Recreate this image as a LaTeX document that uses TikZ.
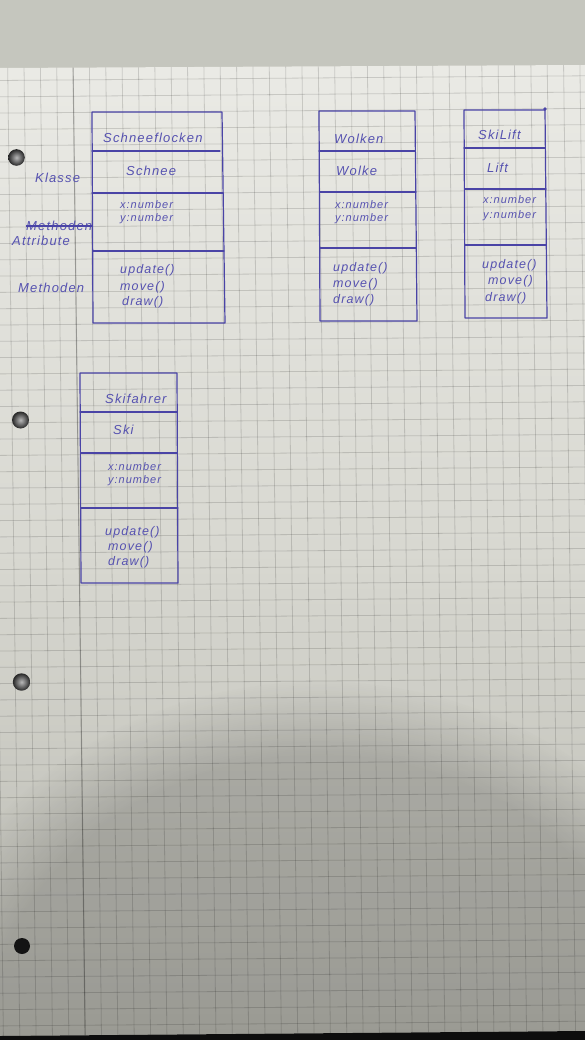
\documentclass[tikz,border=0pt]{standalone}
\usepackage{fontspec}
\newfontfamily\handfont[LetterSpace=9]{Liberation Sans}
\usetikzlibrary{fadings}
\definecolor{wall}{RGB}{197,198,190}
\definecolor{papertop}{RGB}{234,234,229}
\definecolor{papermid}{RGB}{216,216,209}
\definecolor{paperbot}{RGB}{184,184,176}
\definecolor{ink}{RGB}{74,68,166}
\definecolor{inktext}{RGB}{86,82,176}

\begin{document}
\begin{tikzpicture}[x=1pt,y=-1pt,
  gridline/.style={black, opacity=0.14, line width=0.8pt},
  marginline/.style={black, opacity=0.22, line width=1.1pt},
  inkline/.style={draw=ink, line width=1.2pt, line cap=round, line join=round},
  hand/.style={text=inktext, inner sep=0pt, anchor=west},
  title/.style={hand, font=\handfont\itshape\fontsize{13}{15}\selectfont},
  attr/.style={hand, font=\handfont\itshape\fontsize{11}{13}\selectfont},
  meth/.style={hand, font=\handfont\itshape\fontsize{12.5}{14}\selectfont},
  hole/.style={inner color=gray!55, outer color=black!85},
]
\useasboundingbox (0,0) rectangle (585,1040);

% wall behind the sheet
\fill[wall] (0,0) rectangle (585,1040);

% the sheet of squared paper
\shade[top color=papertop, bottom color=paperbot, middle color=papermid]
  (0,68) -- (585,65) -- (585,1031) -- (0,1036) -- cycle;
\begin{scope}
  \clip (0,68) -- (585,65) -- (585,1031) -- (0,1036) -- cycle;
  \fill[black, opacity=0.16, path fading=circle with fuzzy edge 20 percent]
    (320,1060) ellipse [x radius=420, y radius=380];
\end{scope}

% squared grid
\begin{scope}
  \clip (0,68) -- (585,65) -- (585,1031) -- (0,1036) -- cycle;
  \foreach \k in {-5,...,32}
    \draw[gridline] ({73+16.35*\k},60) -- ({73+16.35*\k+12.2},1040);
  \foreach \j in {0,...,60}
    \draw[gridline] (0,{80.5+16.3*\j}) -- (585,{80.5+16.3*\j-4.7});
  % margin rule
  \draw[marginline] (73,60) -- (85.2,1040);
\end{scope}

% punched holes
\shade[hole] (16.5,157.5) circle [radius=8.3];
\shade[hole] (20.5,420) circle [radius=8.5];
\shade[hole] (21.5,682) circle [radius=8.7];
\fill[black!92] (22,946) circle [radius=8];

% table edge below the sheet
\fill[black!95] (0,1036) -- (585,1031) -- (585,1040) -- (0,1040) -- cycle;

% ---- class Schneeflocken ----
\draw[inkline] (92,112) -- (222,112) -- (225,323) -- (93,323) -- cycle;
\draw[inkline] (92,151) -- (220,151);
\draw[inkline] (92,193) -- (223,193);
\draw[inkline] (93,251) -- (224,251);
\node[title] (sfName) at (103,138) {Schneeflocken};
\node[title] (sfObj) at (126,171) {Schnee};
\node[attr] (sfX) at (120,205) {x:number};
\node[attr] (sfY) at (120,219) {y:number};
\node[meth] (sfUpd) at (120,270) {update()};
\node[meth] (sfMove) at (120,287) {move()};
\node[meth] (sfDraw) at (122,302) {draw()};

% margin notes
\node[title] (lblClass) at (35,178) {Klasse};
\node[title] (lblOld) at (26,226) {Methoden};
\draw[ink, line width=1.1pt] (lblOld.west) -- (lblOld.east);
\node[title] (lblAttr) at (12,241) {Attribute};
\node[title] (lblMeth) at (18,288) {Methoden};

% ---- class Wolken ----
\draw[inkline] (319,111) -- (415,111) -- (417,321) -- (320,321) -- cycle;
\draw[inkline] (319,151) -- (415,151);
\draw[inkline] (320,192) -- (416,192);
\draw[inkline] (320,248) -- (416,248);
\node[title] (wkName) at (334,139) {Wolken};
\node[title] (wkObj) at (336,171) {Wolke};
\node[attr] (wkX) at (335,205) {x:number};
\node[attr] (wkY) at (335,219) {y:number};
\node[meth] (wkUpd) at (333,268) {update()};
\node[meth] (wkMove) at (333,284) {move()};
\node[meth] (wkDraw) at (333,300) {draw()};

% ---- class SkiLift ----
\draw[inkline] (464,110) -- (545,110) -- (547,318) -- (465,318) -- cycle;
\fill[ink] (545,109) circle [radius=1.8];
\draw[inkline] (464,148) -- (545,148);
\draw[inkline] (465,189) -- (546,189);
\draw[inkline] (465,245) -- (546,245);
\node[title] (slName) at (478,135) {SkiLift};
\node[title] (slObj) at (487,168) {Lift};
\node[attr] (slX) at (483,200) {x:number};
\node[attr] (slY) at (483,216) {y:number};
\node[meth] (slUpd) at (482,265) {update()};
\node[meth] (slMove) at (488,281) {move()};
\node[meth] (slDraw) at (485,298) {draw()};

% ---- class Skifahrer ----
\draw[inkline] (80,373) -- (177,373) -- (178,583) -- (81,583) -- cycle;
\draw[inkline] (80,412) -- (177,412);
\draw[inkline] (81,453) -- (177,453);
\draw[inkline] (81,508) -- (178,508);
\node[title] (sfaName) at (105,399) {Skifahrer};
\node[title] (sfaObj) at (113,430) {Ski};
\node[attr] (sfaX) at (108,467) {x:number};
\node[attr] (sfaY) at (108,481) {y:number};
\node[meth] (sfaUpd) at (105,532) {update()};
\node[meth] (sfaMove) at (108,547) {move()};
\node[meth] (sfaDraw) at (108,562) {draw()};
\end{tikzpicture}
\end{document}
